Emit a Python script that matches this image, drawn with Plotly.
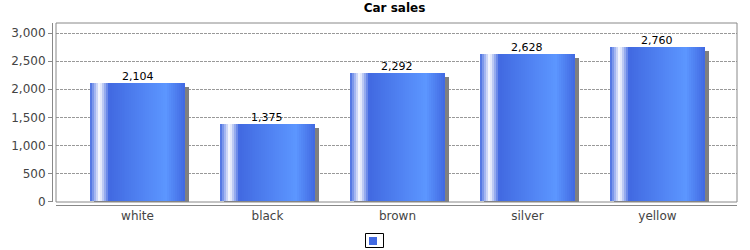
import plotly.graph_objects as go

categories = ["white", "black", "brown", "silver", "yellow"]
sales = [2104, 1375, 2292, 2628, 2760]
value_labels = ["2,104", "1,375", "2,292", "2,628", "2,760"]
y_ticks = [0, 500, 1000, 1500, 2000, 2500, 3000]

W, H = 750, 250
ML, MR, MT, MB = 52, 13, 23, 45
PW, PH = W - ML - MR, H - MT - MB

XMIN, XMAX = -0.627, 4.612
YMIN, YMAX = -9, 3180
BAR_W = 0.731
px_per_x = (737 - 56) / (XMAX - XMIN)
px_per_y = 179 / (YMAX - YMIN)
SH_DX = 4 / px_per_x
SH_DY = 4 / px_per_y

base = (65, 105, 225)
bright = (92, 150, 255)
white = (255, 255, 255)


def lerp(c0, c1, t):
    return tuple(round(a + (b - a) * t) for a, b in zip(c0, c1))


def grad(t):
    if t < 0.10:
        return lerp(base, white, t / 0.10)
    if t < 0.20:
        return lerp(white, base, (t - 0.10) / 0.10)
    if t < 0.80:
        return lerp(base, bright, (t - 0.20) / 0.60)
    return lerp(bright, base, (t - 0.80) / 0.20)


N = 48
sw = BAR_W / N

fig = go.Figure()

# shadows
fig.add_trace(go.Bar(
    x=[i + SH_DX for i in range(len(categories))],
    y=[v - SH_DY - YMIN for v in sales],
    base=YMIN,
    width=BAR_W,
    marker=dict(color="#808080", line=dict(width=0)),
    showlegend=False, hoverinfo="skip",
))

# gradient strips
xs, ys, cols = [], [], []
for i, v in enumerate(sales):
    for k in range(N):
        t = (k + 0.5) / N
        xs.append(i - BAR_W / 2 + (k + 0.5) * sw)
        ys.append(v)
        c = grad(t)
        cols.append(f"rgb({c[0]},{c[1]},{c[2]})")
fig.add_trace(go.Bar(
    x=xs, y=ys, width=sw * 1.15,
    marker=dict(color=cols, line=dict(width=0)),
    showlegend=False, hoverinfo="skip",
))

# value labels
annotations = [
    dict(x=i, y=v, xref="x", yref="y", text=lbl, showarrow=False,
         yanchor="bottom", yshift=-2,
         font=dict(family="DejaVu Sans", size=11, color="#000"))
    for i, (v, lbl) in enumerate(zip(sales, value_labels))
]

x0d = (56 - ML) / PW
y0d = (205 - 202) / PH

fig.update_layout(
    width=W, height=H,
    margin=dict(l=ML, r=MR, t=MT, b=MB),
    paper_bgcolor="white", plot_bgcolor="white",
    barmode="overlay", bargap=0,
    title=dict(text="<b>Car sales</b>", x=0.5, xref="paper", xanchor="center",
               y=1 - 8 / H, yref="container", yanchor="middle",
               font=dict(family="DejaVu Sans", size=12, color="#000")),
    font=dict(family="DejaVu Sans", size=12, color="#444"),
    xaxis=dict(
        domain=[x0d, 1], range=[XMIN, XMAX],
        tickvals=list(range(len(categories))), ticktext=categories,
        showgrid=False, zeroline=False, ticks="",
        showline=True, linecolor="#888", linewidth=1,
        anchor="free", position=0,
        tickfont=dict(family="DejaVu Sans", size=12, color="#444"),
    ),
    yaxis=dict(
        domain=[y0d, 1], range=[YMIN, YMAX],
        tickvals=y_ticks, tickformat=",d",
        showgrid=True, gridcolor="#999", gridwidth=1, griddash="3px,1px",
        zeroline=False, ticks="outside", ticklen=4, tickcolor="#888",
        showline=True, linecolor="#888", linewidth=1,
        anchor="free", position=0,
        tickfont=dict(family="DejaVu Sans", size=12, color="#444"),
    ),
    showlegend=False,
    annotations=annotations,
)


def px_x(p):
    return (p - ML) / PW


def px_y(p):
    return (H - MB - p) / PH


shapes = [
    # plot border
    dict(type="rect", xref="paper", yref="paper",
         x0=x0d, x1=1, y0=y0d, y1=1,
         line=dict(color="#888", width=1), fillcolor="rgba(0,0,0,0)", layer="above"),
    # legend box
    dict(type="rect", xref="paper", yref="paper",
         x0=px_x(365.5), x1=px_x(383.5), y0=px_y(247.5), y1=px_y(233.5),
         line=dict(color="#000", width=1), fillcolor="white"),
    dict(type="rect", xref="paper", yref="paper",
         x0=px_x(369), x1=px_x(377), y0=px_y(245), y1=px_y(237),
         line=dict(width=0), fillcolor="rgb(65,105,225)"),
]
fig.update_layout(shapes=shapes)

fig.write_html("out.html")
